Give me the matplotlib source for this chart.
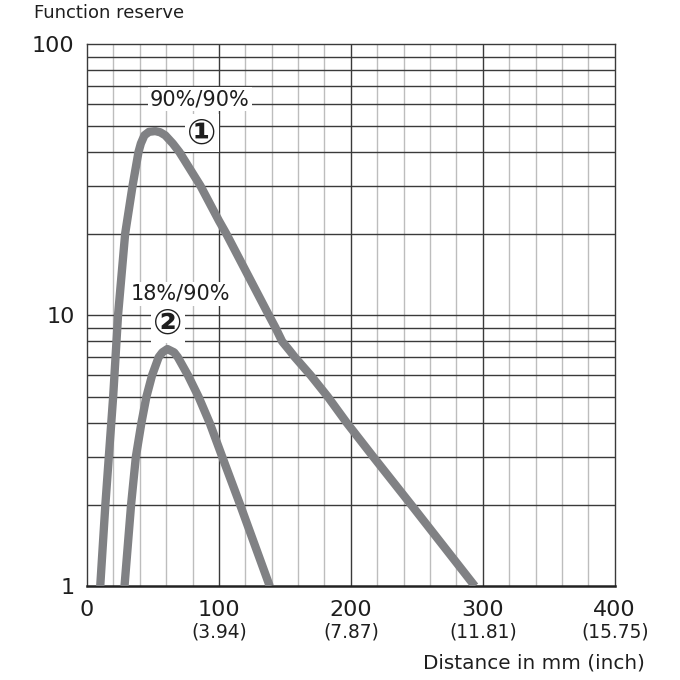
import numpy as np
import matplotlib
matplotlib.use('Agg')
import matplotlib.pyplot as plt

plt.rcParams['font.family'] = ['DejaVu Sans', 'Noto Sans CJK SC']

# curve 1: 90%/90%
dist_1 = [10, 13.9, 16.5, 19.8, 23.5, 28.9, 34.5, 39, 40.8, 43.5, 47, 51.7, 55.5,
          59.3, 65, 70, 86, 100, 105.5, 137.8, 142.8, 147.9, 153.7, 157.5,
          169.5, 182.5, 197, 217, 245.6, 294]
res_1 = [1, 2, 3, 5, 10, 20, 30, 40, 43, 46.1, 47.5, 47.8, 47.3,
         46.1, 43, 40, 30, 22.3, 20, 10, 9, 8, 7.39, 7,
         6, 5, 4, 3, 2, 1]

# curve 2: 18%/90%
dist_2 = [28.4, 33.4, 37, 41.2, 45, 49.3, 54.3, 57.1, 60.9, 66, 68.8, 76.5, 84.5,
          93, 102.5, 116, 138.5]
res_2 = [1, 2, 3, 4, 5, 6, 7, 7.29, 7.5, 7.29, 7, 6, 5,
         4, 3, 2, 1]

x_ticks = [0, 100, 200, 300, 400]
inch_labels = ['', '(3.94)', '(7.87)', '(11.81)', '(15.75)']

grid_dark = '#3a3a3a'
grid_light = '#bdbdbd'
curve_col = '#808184'
txt_col = '#1e1e1e'

fig = plt.figure(figsize=(6.8, 6.8), dpi=100)
ax = fig.add_axes([0.128, 0.138, 0.776, 0.797])
ax.set_yscale('log')
ax.set_xlim(0, 400)
ax.set_ylim(1, 100)

# grid
for xv in np.arange(20, 400, 20):
    if xv % 100 == 0:
        ax.axvline(xv, color=grid_dark, lw=1.0, zorder=1)
    else:
        ax.axvline(xv, color=grid_light, lw=1.0, zorder=0.5)
for dec in [1, 10]:
    for m in range(2, 10):
        ax.axhline(dec * m, color=grid_dark, lw=1.0, zorder=1)
ax.axhline(10, color=grid_dark, lw=1.0, zorder=1)

for s in ax.spines.values():
    s.set_color(grid_dark)
    s.set_linewidth(1.0)
ax.spines['bottom'].set_linewidth(1.8)
ax.spines['bottom'].set_color('#222222')

ax.plot(dist_1, res_1, color=curve_col, lw=6, solid_capstyle='butt',
        solid_joinstyle='round', zorder=3)
ax.plot(dist_2, res_2, color=curve_col, lw=6, solid_capstyle='butt',
        solid_joinstyle='round', zorder=3)

box = dict(facecolor='white', edgecolor='none', pad=1.5)
ax.text(85.6, 62.6, '90%/90%', fontsize=15, ha='center', va='center',
        color=txt_col, bbox=box, zorder=4)
ax.text(87, 46.9, '\u2460', fontsize=25, ha='center', va='center',
        color=txt_col, fontweight='bold', bbox=box, zorder=4)
ax.text(70.5, 12.0, '18%/90%', fontsize=15, ha='center', va='center',
        color=txt_col, bbox=box, zorder=4)
ax.text(61.4, 9.3, '\u2461', fontsize=25, ha='center', va='center',
        color=txt_col, fontweight='bold', bbox=box, zorder=2.5)

# ticks
ax.set_xticks(x_ticks)
ax.set_xticklabels([str(v) for v in x_ticks], fontsize=16, color=txt_col)
ax.set_yticks([1, 10, 100])
ax.set_yticklabels(['1', '10', '100'], fontsize=16, color=txt_col)
ax.yaxis.set_minor_locator(matplotlib.ticker.NullLocator())
ax.tick_params(axis='both', length=0)
ax.tick_params(axis='x', pad=10)
ax.tick_params(axis='y', pad=9)

trans = matplotlib.transforms.blended_transform_factory(ax.transData, fig.transFigure)
for xv, lab in zip(x_ticks, inch_labels):
    ax.text(xv, 1 - 632 / 680, lab, transform=trans, fontsize=13.4,
            ha='center', va='center', color=txt_col)

fig.text(34 / 680, 1 - 13 / 680, 'Function reserve', fontsize=13,
         ha='left', va='center', color=txt_col)
fig.text(645 / 680, 1 - 663 / 680, 'Distance in mm (inch)', fontsize=14.4,
         ha='right', va='center', color=txt_col)

fig.savefig('out.png', dpi=100, facecolor='white')
